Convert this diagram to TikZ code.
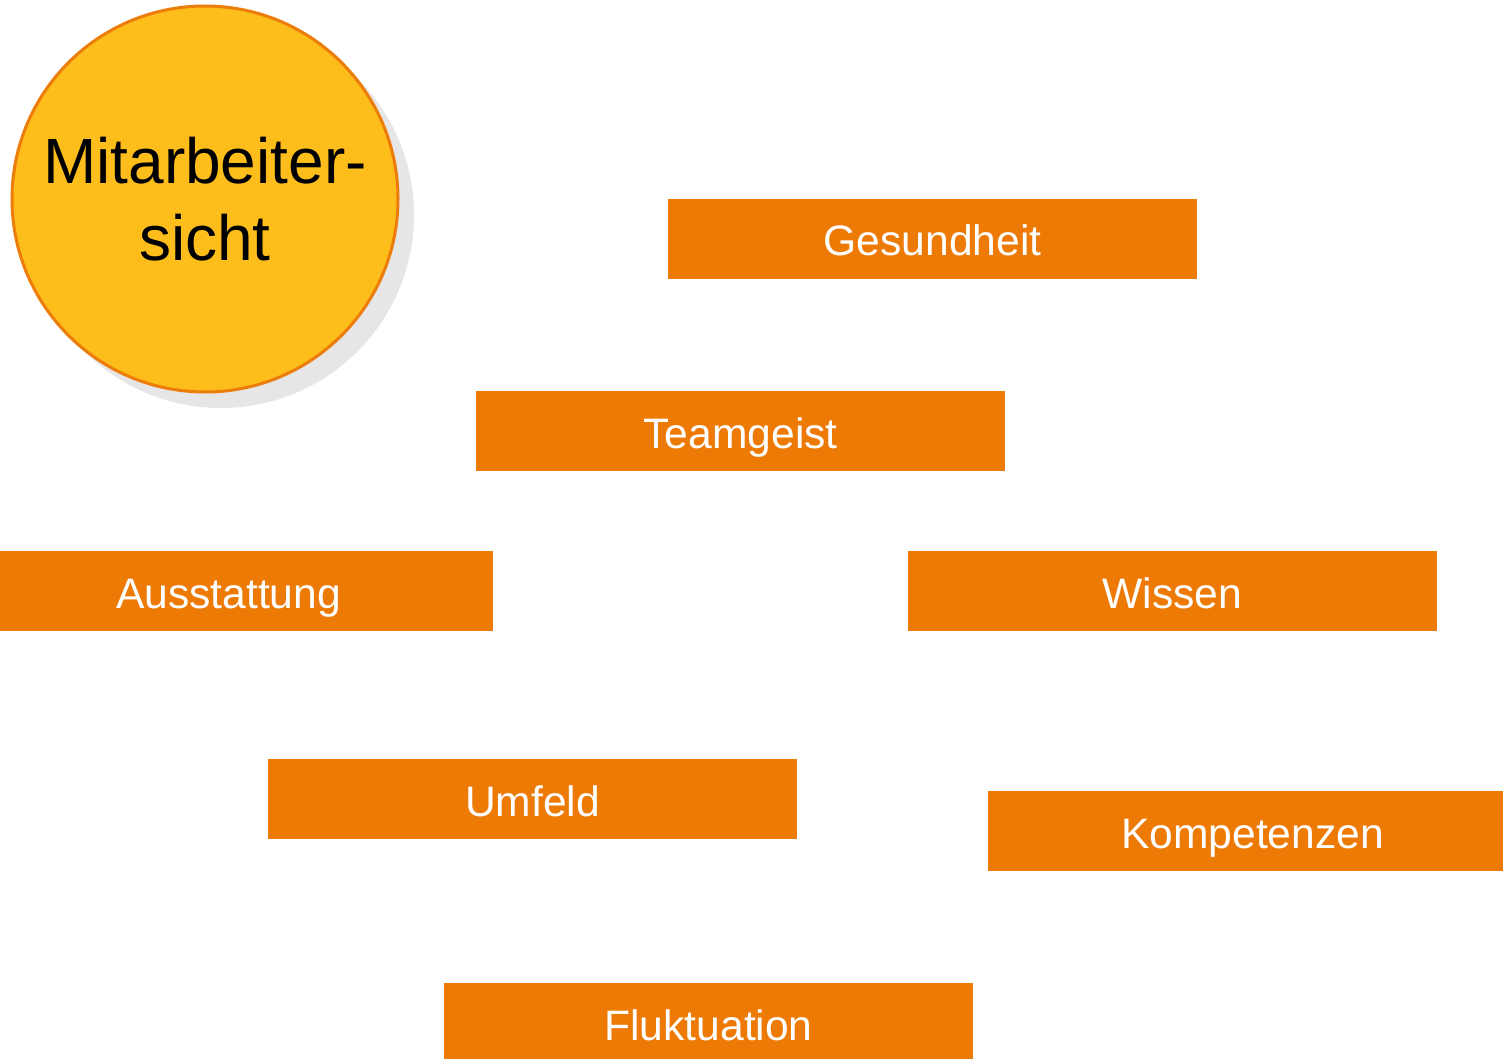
\documentclass[tikz,border=0pt]{standalone}
\usepackage{fontspec}
\setmainfont{Liberation Sans}
\usetikzlibrary{shadows}
\definecolor{boxorange}{RGB}{237,122,5}
\definecolor{circfill}{RGB}{253,189,26}
\definecolor{circline}{RGB}{237,125,10}
\definecolor{shadowgray}{RGB}{230,230,230}
\tikzset{
  itembox/.style={fill=boxorange, text=white, font=\fontsize{21.3pt}{25.5pt}\selectfont,
    minimum width=264.5pt, minimum height=40pt, text height=28.5pt, text depth=11.5pt,
    inner sep=0pt, outer sep=0pt, anchor=north west},
  mainbubble/.style={circle, fill=circfill, draw=circline, line width=1.5pt,
    minimum size=193pt, inner sep=0pt, align=center,
    font=\fontsize{32pt}{38.5pt}\selectfont,
    drop shadow={shadow xshift=8pt, shadow yshift=-8pt, fill=shadowgray, opacity=1}}
}
\begin{document}
\begin{tikzpicture}[x=0.5pt, y=-0.5pt]
  \clip (0,0) rectangle (1503,1059);
  \fill[white] (0,0) rectangle (1503,1059);
  \node[mainbubble] (mas) at (205,199) {Mitarbeiter-\\sicht};
  \node[itembox] (ges) at (668,199) {Gesundheit};
  \node[itembox] (team) at (476,391) {Teamgeist};
  \node[itembox] (aus) at (-36,551) {Ausstattung};
  \node[itembox] (wis) at (908,551) {Wissen};
  \node[itembox] (umf) at (268,759) {Umfeld};
  \node[itembox] (kom) at (988,791) {Kompetenzen};
  \node[itembox] (flu) at (444,983) {Fluktuation};
\end{tikzpicture}
\end{document}
